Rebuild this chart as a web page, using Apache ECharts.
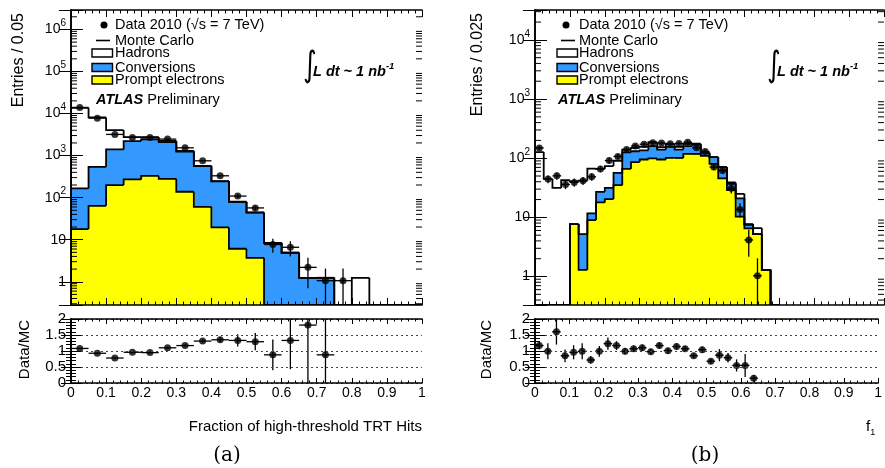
<!DOCTYPE html>
<html>
<head>
<meta charset="utf-8">
<script src="https://cdn.jsdelivr.net/npm/echarts@6/dist/echarts.min.js"></script>
<style>
html, body { margin: 0; padding: 0; background: #fff; }
#chart { width: 885px; height: 468px; }
</style>
</head>
<body>
<div id="chart"></div>
<script>
// (a) fraction of high-threshold TRT hits, bins of 0.05
const binWA = 0.05
const promptA = [17.9, 64, 199, 272, 331, 281, 138, 60.6, 19.6, 6.1, 3.7, 0, 0, 0, 0, 0, 0, 0, 0, 0]
const conversionsA = [148, 478, 1200, 1940, 2120, 1820, 1110, 499, 225, 73, 40.3, 8.4, 4.9, 1.24, 1.24, 0, 0, 0, 0, 0]
const hadronsA = [13510, 7550, 2640, 540, 300, 150, 50, 11, 3, 0.7, 0.6, 0.05, 0, 0, 0, 0, 1.24, 0, 0, 0]
const dataA = [13970, 7780, 3190, 2710, 2710, 2470, 1530, 752, 331, 109, 57, 7.7, 6.6, 2.2, 1.06, 1.06]
const dataErrA = [118, 88, 56, 52, 52, 50, 39, 27, 18, 10.4, 7.5, 2.8, 2.6, 1.5, 1, 1]
const ratioA = [1.08, 0.93, 0.78, 0.96, 0.95, 1.1, 1.17, 1.31, 1.35, 1.33, 1.29, 0.88, 1.33, 1.81, 0.88]
const ratioErrA = [0.02, 0.02, 0.02, 0.03, 0.03, 0.03, 0.04, 0.06, 0.08, 0.19, 0.27, 0.48, 0.9, 1.9, 1.2]

// (b) f_HT, bins of 0.025
const binWB = 0.025
const promptB = [0, 0, 0, 0, 7.7, 1.3, 9.0, 17.9, 20.4, 35, 66, 86, 95, 99, 95, 101, 101, 118, 118, 110, 80, 45.5, 28.9, 10.3, 6.5, 5.2, 1.3, 0]
const conversionsB = [0, 0, 0, 0, 0, 3.9, 2.7, 9.1, 11.2, 21.5, 59, 45, 41, 61, 45, 54, 39, 42, 52, 12, 24, 25.5, 8.1, 10.7, 1.0, 0, 0, 0]
const hadronsB = [127, 44.7, 31.4, 42.4, 33, 36.7, 55, 39, 42, 34, 15, 19, 20, 26, 14, 18, 15, 14, 6, 3, 0, 0, 2, 4, 0.2, 1.4, 0, 0]
const dataB = [149, 44.3, 50.3, 36, 39, 41.5, 48.4, 66, 91, 107, 140, 161, 172, 182, 180, 175, 177, 186, 150, 130, 71, 62, 30.9, 13.6, 4.15, 1.03]
const dataErrB = [12.2, 6.7, 7.1, 6, 6.2, 6.4, 7, 8.1, 9.5, 10.3, 11.8, 12.7, 13.1, 13.5, 13.4, 13.2, 13.3, 13.6, 12.2, 11.4, 8.4, 7.9, 5.6, 3.7, 2, 1]
const ratioB = [1.17, 0.99, 1.6, 0.85, 0.96, 0.99, 0.72, 0.99, 1.23, 1.17, 0.99, 1.07, 1.1, 0.98, 1.17, 1.01, 1.14, 1.07, 0.85, 1.04, 0.68, 0.87, 0.79, 0.55, 0.55, 0.15]
const ratioErrB = [0.12, 0.25, 0.4, 0.2, 0.22, 0.25, 0.12, 0.17, 0.19, 0.14, 0.1, 0.1, 0.1, 0.09, 0.1, 0.09, 0.1, 0.09, 0.08, 0.1, 0.08, 0.19, 0.15, 0.19, 0.36, 0.1]

const rangeA = [0.28, 2.9e6]
const rangeB = [0.33, 3.2e4]

const black = '#000'
const blue = '#3399ff'
const yellow = '#ffff00'
const font = '"Liberation Sans", Arial, Helvetica, sans-serif'

const chart = echarts.init(document.getElementById('chart'))

// cumulative stack: prompt, +conversions, +hadrons
const cumulate = (a, b) => a.map((v, i) => v + b[i])

const powerLabel = v => {
  const e = Math.log10(v)
  const n = Math.round(e)
  if (Math.abs(e - n) > 1e-6) return ''
  if (n === 0) return '1'
  if (n === 1) return '10'
  return '10{sup|' + n + '}'
}

const minorLogValues = ([lo, hi]) => {
  const out = []
  for (let e = Math.floor(Math.log10(lo)); e <= Math.ceil(Math.log10(hi)); e++) {
    for (let m = 2; m <= 9; m++) {
      const v = m * Math.pow(10, e)
      if (v > lo && v < hi) out.push(v)
    }
  }
  return out
}

const xAxes = (grid, ratio) => {
  const base = {
    gridIndex: grid, type: 'value', min: 0, max: 1, interval: 0.1, z: 10,
    axisLine: { onZero: false, lineStyle: { color: black, width: 1.6 } },
    axisTick: { inside: true, length: ratio ? 5 : 7, lineStyle: { color: black, width: 1 } },
    minorTick: { show: true, splitNumber: 5, length: ratio ? 2.5 : 3.5, lineStyle: { color: black, width: 1 } },
    splitLine: { show: false }
  }
  return [
    { ...base, position: 'bottom',
      axisLabel: { show: ratio, color: black, fontSize: 14, fontFamily: font, margin: 3 } },
    { ...base, position: 'top', axisLabel: { show: false } }
  ]
}

const logYAxes = (grid, range) => {
  const base = {
    gridIndex: grid, type: 'log', logBase: 10, min: range[0], max: range[1], splitNumber: 10, z: 10,
    axisLine: { lineStyle: { color: black, width: 1.6 } },
    axisTick: { inside: true, length: 12, lineStyle: { color: black, width: 1 } },
    splitLine: { show: false }
  }
  return [
    { ...base, position: 'left',
      axisLabel: {
        color: black, fontSize: 14, fontFamily: font, margin: 5, lineHeight: 22,
        formatter: powerLabel,
        rich: { sup: { fontSize: 10, fontFamily: font, color: black, verticalAlign: 'top', lineHeight: 12 } }
      } },
    { ...base, position: 'right', axisLabel: { show: false } }
  ]
}

const ratioYAxes = grid => {
  const base = {
    gridIndex: grid, type: 'value', min: 0, max: 2, interval: 0.5, z: 10,
    axisLine: { lineStyle: { color: black, width: 1.6 } },
    axisTick: { inside: true, length: 10, lineStyle: { color: black, width: 1 } },
    minorTick: { show: true, splitNumber: 5, length: 5, lineStyle: { color: black, width: 1 } }
  }
  return [
    { ...base, position: 'left',
      splitLine: { show: true, lineStyle: { type: [2, 3], color: '#444', width: 1 } },
      axisLabel: { color: black, fontSize: 15, fontFamily: font, margin: 5 } },
    { ...base, position: 'right', splitLine: { show: false }, axisLabel: { show: false } }
  ]
}

const layerData = (binW, tops) => tops.map((v, i) => [i * binW, (i + 1) * binW, v, i ? tops[i - 1] : 0])

// filled bins of one stacked layer (slightly overlapped to avoid seams)
const histFill = (axis, binW, tops, floor, color) => ({
  type: 'custom', xAxisIndex: axis, yAxisIndex: axis, clip: true, silent: true, z: 2,
  data: layerData(binW, tops),
  renderItem: (params, api) => {
    if (!(api.value(2) > 0)) return null
    const a = api.coord([api.value(0), Math.max(api.value(2), floor)])
    const b = api.coord([api.value(1), floor])
    return { type: 'rect', shape: { x: a[0], y: a[1], width: b[0] - a[0] + 0.8, height: b[1] - a[1] }, style: { fill: color } }
  }
})

// black step outline of one stacked layer
const histLine = (axis, binW, tops, floor) => ({
  type: 'custom', xAxisIndex: axis, yAxisIndex: axis, clip: true, silent: true, z: 3,
  data: layerData(binW, tops),
  renderItem: (params, api) => {
    const yv = v => Math.max(v, floor)
    const a = api.coord([api.value(0), yv(api.value(2))])
    const b = api.coord([api.value(1), yv(api.value(2))])
    const p = api.coord([api.value(0), yv(api.value(3))])
    return { type: 'polyline', shape: { points: [p, a, b] }, style: { stroke: black, lineWidth: 1.8, fill: null } }
  }
})

const errorBars = (axis, binW, vals, errs, floor) => ({
  type: 'custom', xAxisIndex: axis, yAxisIndex: axis, clip: true, silent: true, z: 4,
  data: vals.map((v, i) => [i * binW, (i + 1) * binW, v, errs[i]]).filter(d => d[2] > 0),
  renderItem: (params, api) => {
    const x0 = api.value(0), x1 = api.value(1), v = api.value(2), e = api.value(3)
    const xm = (x0 + x1) / 2
    const l = api.coord([x0, v]), r = api.coord([x1, v])
    const top = api.coord([xm, v + e]), bot = api.coord([xm, Math.max(v - e, floor)])
    const st = { stroke: black, lineWidth: 1.3 }
    return { type: 'group', children: [
      { type: 'line', shape: { x1: l[0], y1: l[1], x2: r[0], y2: r[1] }, style: st },
      { type: 'line', shape: { x1: top[0], y1: top[1], x2: bot[0], y2: bot[1] }, style: st }
    ] }
  }
})

const points = (axis, binW, vals) => ({
  type: 'scatter', xAxisIndex: axis, yAxisIndex: axis, silent: true, z: 5,
  symbol: 'circle', symbolSize: 7, itemStyle: { color: black },
  data: vals.map((v, i) => [(i + 0.5) * binW, v]).filter(d => d[1] > 0)
})

const minorLogTicks = (axis, range) => ({
  type: 'custom', xAxisIndex: axis, yAxisIndex: axis, silent: true, z: 6,
  data: minorLogValues(range).map(v => [0, v]),
  renderItem: (params, api) => {
    const l = api.coord([0, api.value(1)])
    const r = api.coord([1, api.value(1)])
    const st = { stroke: black, lineWidth: 1 }
    return { type: 'group', children: [
      { type: 'line', shape: { x1: l[0], y1: l[1], x2: l[0] + 6, y2: l[1] }, style: st },
      { type: 'line', shape: { x1: r[0], y1: r[1], x2: r[0] - 6, y2: r[1] }, style: st }
    ] }
  }
})

const panelSeries = (top, ratio, binW, prompt, conv, had, data, dataErr, rat, ratErr, range) => {
  const convTop = cumulate(prompt, conv)
  const total = cumulate(convTop, had)
  return [
    histFill(top, binW, total, range[0], '#ffffff'),
    histFill(top, binW, convTop, range[0], blue),
    histFill(top, binW, prompt, range[0], yellow),
    histLine(top, binW, total, range[0]),
    histLine(top, binW, convTop, range[0]),
    histLine(top, binW, prompt, range[0]),
    errorBars(top, binW, data, dataErr, range[0]),
    points(top, binW, data),
    minorLogTicks(top, range),
    errorBars(ratio, binW, rat, ratErr, -1),
    points(ratio, binW, rat)
  ]
}

const text = (x, y, t, extra = {}) => ({
  type: 'text', x, y, z: 20, silent: true,
  style: { text: t, fill: black, fontSize: 14.5, fontFamily: font, align: 'left', verticalAlign: 'middle', ...extra }
})

const legend = (rectX, dotX, textX) => [
  { type: 'circle', z: 20, shape: { cx: dotX, cy: 25, r: 3.5 }, style: { fill: black } },
  { type: 'line', z: 20, shape: { x1: rectX + 4, y1: 40.5, x2: rectX + 18, y2: 40.5 }, style: { stroke: black, lineWidth: 1.6 } },
  { type: 'rect', z: 20, shape: { x: rectX, y: 49, width: 20.5, height: 8 }, style: { fill: '#fff', stroke: black, lineWidth: 1.4 } },
  { type: 'rect', z: 20, shape: { x: rectX, y: 63.5, width: 20.5, height: 8 }, style: { fill: blue, stroke: black, lineWidth: 1.4 } },
  { type: 'rect', z: 20, shape: { x: rectX, y: 76, width: 20.5, height: 8 }, style: { fill: yellow, stroke: black, lineWidth: 1.4 } },
  text(textX, 25, 'Data 2010 (√s = 7 TeV)'),
  text(textX, 40.5, 'Monte Carlo'),
  text(textX, 53, 'Hadrons'),
  text(textX, 67.5, 'Conversions'),
  text(textX, 80, 'Prompt electrons')
]

const labels = (atlasX, intX, entriesX, entriesText, ratioX) => [
  text(atlasX, 100, '{b|ATLAS} Preliminary', {
    rich: { b: { fontSize: 14.5, fontFamily: font, fontWeight: 'bold', fontStyle: 'italic', fill: black } }
  }),
  { type: 'text', x: intX, y: 67, z: 20, scaleY: 1.35, silent: true,
    style: { text: '∫', fill: black, fontSize: 26, fontFamily: '"DejaVu Sans"', align: 'left', verticalAlign: 'middle' } },
  text(intX + 10, 72, 'L dt ~ 1 nb{sup|-1}', {
    fontWeight: 'bold', fontStyle: 'italic', lineHeight: 22,
    rich: { sup: { fontSize: 9.5, fontFamily: font, fontWeight: 'bold', fontStyle: 'italic', fill: black, verticalAlign: 'top', lineHeight: 12 } }
  }),
  { type: 'text', x: entriesX, y: 13, z: 20, rotation: Math.PI / 2, silent: true,
    style: { text: entriesText, fill: black, fontSize: 16, fontFamily: font, align: 'right', verticalAlign: 'middle' } },
  { type: 'text', x: ratioX, y: 320, z: 20, rotation: Math.PI / 2, silent: true,
    style: { text: 'Data/MC', fill: black, fontSize: 15, fontFamily: font, align: 'right', verticalAlign: 'middle' } }
]

const option = {
  animation: false,
  backgroundColor: '#fff',
  grid: [
    { left: 71, top: 10, width: 351, height: 295 },
    { left: 71, top: 319, width: 351, height: 64 },
    { left: 535, top: 10, width: 349, height: 295 },
    { left: 535, top: 319, width: 349, height: 64 }
  ],
  xAxis: [...xAxes(0, false), ...xAxes(1, true), ...xAxes(2, false), ...xAxes(3, true)],
  yAxis: [...logYAxes(0, rangeA), ...ratioYAxes(1), ...logYAxes(2, rangeB), ...ratioYAxes(3)],
  series: [
    ...panelSeries(0, 2, binWA, promptA, conversionsA, hadronsA, dataA, dataErrA, ratioA, ratioErrA, rangeA),
    ...panelSeries(4, 6, binWB, promptB, conversionsB, hadronsB, dataB, dataErrB, ratioB, ratioErrB, rangeB)
  ],
  graphic: [
    ...legend(92, 104, 115),
    ...legend(557, 566, 579),
    ...labels(96, 303, 18.5, 'Entries / 0.05', 25),
    ...labels(558, 767, 478, 'Entries / 0.025', 487),
    text(422, 427, 'Fraction of high-threshold TRT Hits', { align: 'right', fontSize: 15 }),
    text(866, 427, 'f{s|1}', { fontSize: 15, rich: { s: { fontSize: 9, fontFamily: font, fill: black, verticalAlign: 'bottom', lineHeight: 10 } }, lineHeight: 20 }),
    text(227, 456, '(a)', { align: 'center', fontSize: 20, fontFamily: '"DejaVu Serif", "Liberation Serif", serif' }),
    text(705, 456, '(b)', { align: 'center', fontSize: 20, fontFamily: '"DejaVu Serif", "Liberation Serif", serif' })
  ]
}

chart.setOption(option)
</script>
</body>
</html>
